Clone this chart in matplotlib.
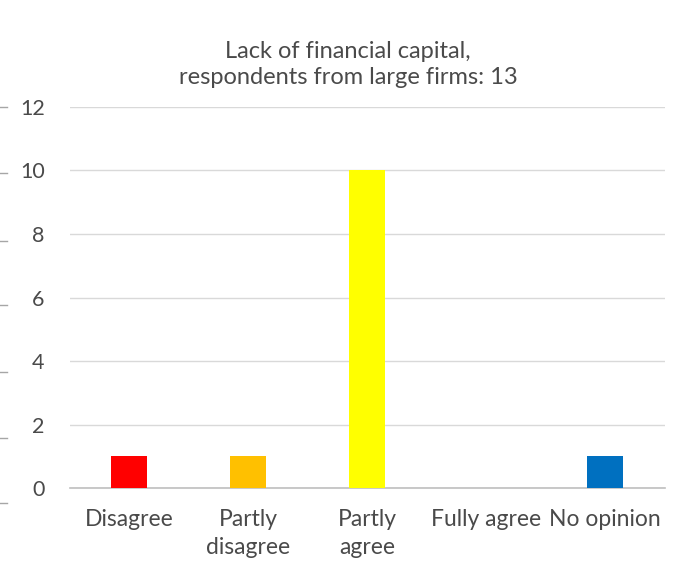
import matplotlib.pyplot as plt
from matplotlib.lines import Line2D

categories = ["Disagree", "Partly\ndisagree", "Partly\nagree", "Fully agree", "No opinion"]
counts = [1, 1, 10, 0, 1]
bar_colors = ["#FF0000", "#FFC000", "#FFFF00", "#FFC000", "#0070C0"]
y_ticks = [0, 2, 4, 6, 8, 10, 12]

plt.rcParams['font.family'] = ['Lato', 'DejaVu Sans']

fig = plt.figure(figsize=(6.77, 5.63), dpi=100)
ax = fig.add_axes([0.103, 0.133, 0.879, 0.677])

x = range(len(categories))
ax.bar(x, counts, width=0.30, color=bar_colors, zorder=3)

ax.set_ylim(0, 12)
ax.set_xlim(-0.5, len(categories) - 0.5)
ax.set_yticks(y_ticks)
ax.set_xticks(list(x))
ax.set_xticklabels(categories, linespacing=1.42)
ax.tick_params(axis='both', length=0, colors='#4A4A4A')
ax.tick_params(axis='y', pad=18, labelsize=15.5)
ax.tick_params(axis='x', pad=15, labelsize=16.5)

ax.grid(axis='y', color='#D9D9D9', linewidth=1.0, zorder=0)
for side in ['top', 'right', 'left']:
    ax.spines[side].set_visible(False)
ax.spines['bottom'].set_color('#BFBFBF')
ax.spines['bottom'].set_linewidth(1.2)

fig.text(0.514, 0.928, "Lack of financial capital,\nrespondents from large firms: 13",
         ha='center', va='top', fontsize=17, color='#4A4A4A', linespacing=1.3)

# short tick stubs along the left edge
for yy in [107, 173, 241, 305, 372, 438, 503]:
    fig.add_artist(Line2D([0, 7 / 677], [1 - yy / 563] * 2, color='#A6A6A6', linewidth=1))

fig.savefig("out.png", dpi=100)
